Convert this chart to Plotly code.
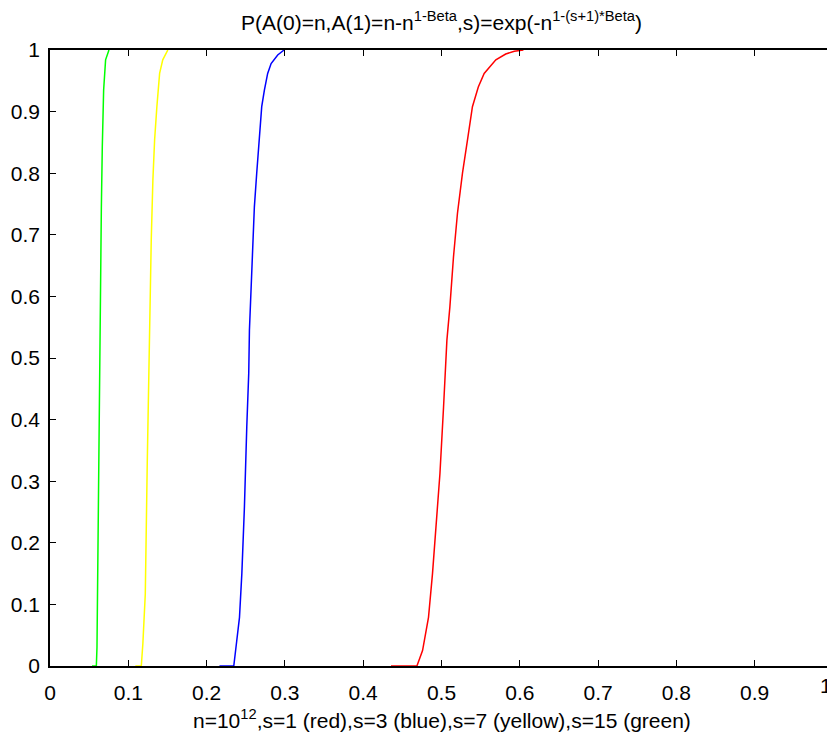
import plotly.graph_objects as go

# s = 1 (red)
red_x = [0.4355, 0.4686, 0.4758, 0.4834, 0.4885, 0.4929, 0.4980, 0.5026, 0.5069, 0.5107,
         0.5153, 0.5204, 0.5268, 0.5332, 0.5395, 0.5470, 0.5545, 0.5694, 0.5820, 0.5930, 0.6046]
red_y = [0.0, 0.0, 0.025, 0.079, 0.150, 0.231, 0.312, 0.420, 0.529, 0.583,
         0.664, 0.735, 0.800, 0.854, 0.908, 0.940, 0.962, 0.984, 0.9935, 0.998, 1.0]

# s = 3 (blue)
blue_x = [0.2164, 0.2347, 0.2385, 0.2420, 0.2450, 0.2483, 0.2513, 0.2538, 0.2547, 0.2569,
          0.2590, 0.2610, 0.2640, 0.2675, 0.2704, 0.2738, 0.2780, 0.2824, 0.2908, 0.2990]
blue_y = [0.0, 0.0, 0.041, 0.079, 0.150, 0.258, 0.388, 0.475, 0.545, 0.615,
          0.680, 0.745, 0.800, 0.854, 0.908, 0.935, 0.962, 0.978, 0.992, 1.0]

# s = 7 (yellow)
yellow_x = [0.1090, 0.1166, 0.1186, 0.1217, 0.1242, 0.1263, 0.1272, 0.1280, 0.1293, 0.1314,
            0.1336, 0.1365, 0.1400, 0.1440, 0.1505]
yellow_y = [0.0, 0.0, 0.036, 0.117, 0.329, 0.485, 0.496, 0.626, 0.691, 0.789,
            0.854, 0.908, 0.962, 0.984, 1.0]

# s = 15 (green)
green_x = [0.0536, 0.0592, 0.0600, 0.0612, 0.0625, 0.0634, 0.0643, 0.0656, 0.0668, 0.0685,
           0.0710, 0.0753]
green_y = [0.0, 0.0, 0.030, 0.204, 0.366, 0.529, 0.659, 0.745, 0.843, 0.935,
           0.984, 1.0]

tick_vals = [0, 0.1, 0.2, 0.3, 0.4, 0.5, 0.6, 0.7, 0.8, 0.9, 1]
tick_text = ["0", "0.1", "0.2", "0.3", "0.4", "0.5", "0.6", "0.7", "0.8", "0.9", "1"]

title_text = "P(A(0)=n,A(1)=n-n<sup>1-Beta</sup>,s)=exp(-n<sup>1-(s+1)*Beta</sup>)"
xlabel_text = "n=10<sup>12</sup>,s=1 (red),s=3 (blue),s=7 (yellow),s=15 (green)"

fig = go.Figure()
series = [(red_x, red_y, "#ff0000"), (blue_x, blue_y, "#0000ff"),
          (yellow_x, yellow_y, "#ffff00"), (green_x, green_y, "#00ff00")]
for xs, ys, c in series:
    fig.add_trace(go.Scatter(x=xs, y=ys, mode="lines",
                             line=dict(color=c, width=1.5), showlegend=False))

font = dict(family="Liberation Sans, Arial, sans-serif", size=21, color="black")

axis_common = dict(
    showgrid=False, zeroline=False, showline=True, linecolor="black", linewidth=1.5,
    mirror="ticks", ticks="inside", ticklen=6, tickwidth=1.2, tickcolor="black",
    tickvals=tick_vals, tickfont=font, range=[0, 1], automargin=False,
)

fig.update_layout(
    width=827, height=726,
    margin=dict(l=42, r=2, t=42, b=68),
    paper_bgcolor="white", plot_bgcolor="white",
    xaxis=dict(**axis_common, ticktext=tick_text[:-1] + [""], ticklabelstandoff=7),
    yaxis=dict(**axis_common, ticktext=tick_text, ticklabelstandoff=4),
    font=font,
)
# last x tick label sits at the very right edge of the page
fig.add_annotation(text=tick_text[-1], xref="paper", yref="paper", x=1, y=0,
                   yshift=-7, xshift=0, xanchor="right", yanchor="top", showarrow=False,
                   font=font, borderpad=0)
fig.add_annotation(text=title_text, xref="paper", yref="paper", x=0.5, y=1.0,
                   yshift=14, xanchor="center", yanchor="bottom", showarrow=False,
                   font=font)
fig.add_annotation(text=xlabel_text, xref="paper", yref="paper", x=0.5, y=0,
                   yshift=-38, xanchor="center", yanchor="top", showarrow=False,
                   font=font)

fig.write_html("out.html")
